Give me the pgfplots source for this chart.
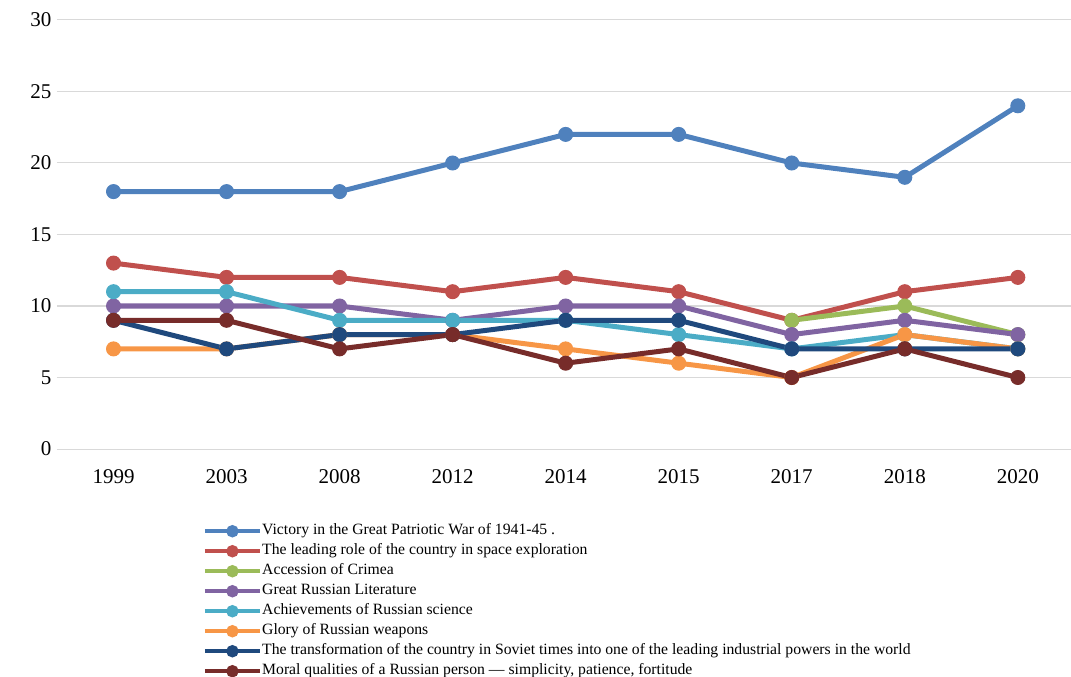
\documentclass[border=0pt]{standalone}
\usepackage{pgfplots}
\pgfplotsset{compat=1.18}
\usepackage{fontspec}
\setmainfont{Liberation Serif}
\definecolor{cBlue}{HTML}{4F81BD}
\definecolor{cRed}{HTML}{C0504D}
\definecolor{cGreen}{HTML}{9BBB59}
\definecolor{cPurple}{HTML}{8064A2}
\definecolor{cCyan}{HTML}{4BACC6}
\definecolor{cOrange}{HTML}{F79646}
\definecolor{cNavy}{HTML}{1F497D}
\definecolor{cMaroon}{HTML}{772C2A}
\begin{document}
\begin{tikzpicture}
\useasboundingbox (-57pt,-228pt) rectangle (1014pt,449pt);
\begin{axis}[
  scale only axis,
  width=1014pt, height=429pt,
  xmin=-0.5, xmax=8.47,
  ymin=0, ymax=30,
  ytick={0,5,...,30},
  xtick={0,...,8},
  xticklabels={1999,2003,2008,2012,2014,2015,2017,2018,2020},
  major tick length=0pt,
  axis line style={draw=none},
  ymajorgrids,
  grid style={color=black!15, line width=1pt},
  tick label style={font=\fontsize{21}{24}\selectfont},
  /pgf/number format/assume math mode=true,
  yticklabel style={xshift=-2pt},
  xticklabel style={yshift=-17pt},
  clip=false,
  every axis plot/.append style={line width=5pt, mark=*, mark size=7pt, mark options={line width=1pt}},
  legend style={draw=none, fill=none, inner sep=0pt,
    at={(axis description cs:0.1435,-0.1743)}, anchor=north west,
    font=\fontsize{15.7}{17}\selectfont,
    row sep=5.5pt,
    nodes={inner sep=0pt, text height=11pt, text depth=3.5pt}},
  legend cell align=left,
  legend image code/.code={
    \draw[#1, line width=4.5pt, mark=none] (0pt,0pt) -- (55pt,0pt);
    \fill[#1, mark=none] (27.5pt,0pt) circle[radius=3.6pt];
  },
  /tikz/every even column/.append style={column sep=4pt},
]
\addplot[color=cBlue] coordinates {(0,18)(1,18)(2,18)(3,20)(4,22)(5,22)(6,20)(7,19)(8,24)};
\addlegendentry{Victory in the Great Patriotic War of 1941-45 .}
\addplot[color=cRed] coordinates {(0,13)(1,12)(2,12)(3,11)(4,12)(5,11)(6,9)(7,11)(8,12)};
\addlegendentry{The leading role of the country in space exploration}
\addplot[color=cGreen] coordinates {(6,9)(7,10)(8,8)};
\addlegendentry{Accession of Crimea}
\addplot[color=cPurple] coordinates {(0,10)(1,10)(2,10)(3,9)(4,10)(5,10)(6,8)(7,9)(8,8)};
\addlegendentry{Great Russian Literature}
\addplot[color=cCyan] coordinates {(0,11)(1,11)(2,9)(3,9)(4,9)(5,8)(6,7)(7,8)(8,7)};
\addlegendentry{Achievements of Russian science}
\addplot[color=cOrange] coordinates {(0,7)(1,7)(2,8)(3,8)(4,7)(5,6)(6,5)(7,8)(8,7)};
\addlegendentry{Glory of Russian weapons}
\addplot[color=cNavy] coordinates {(0,9)(1,7)(2,8)(3,8)(4,9)(5,9)(6,7)(7,7)(8,7)};
\addlegendentry{The transformation of the country in Soviet times into one of the leading industrial powers in the world}
\addplot[color=cMaroon] coordinates {(0,9)(1,9)(2,7)(3,8)(4,6)(5,7)(6,5)(7,7)(8,5)};
\addlegendentry{Moral qualities of a Russian person — simplicity, patience, fortitude}
\end{axis}
\end{tikzpicture}
\end{document}
